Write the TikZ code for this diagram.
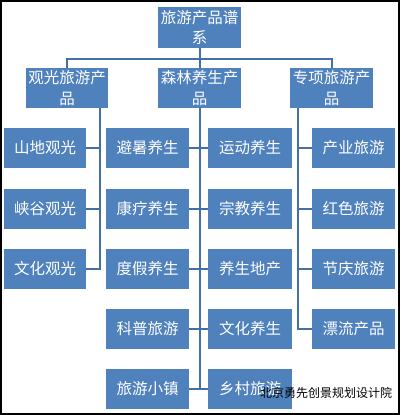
\documentclass[tikz,border=0pt]{standalone}
\usepackage{fontspec}
\setmainfont{Noto Sans CJK SC}
\begin{document}
\begin{tikzpicture}[x=1pt,y=-1pt,
  box/.style={rectangle,fill=boxblue,text=white,inner sep=0pt,
    minimum width=83pt,minimum height=40pt,align=center,
    font=\fontsize{15.5pt}{20.5pt}\selectfont},
  conn/.style={draw=lineblue,line width=2pt}]
\definecolor{boxblue}{HTML}{4F81BD}
\definecolor{lineblue}{HTML}{4371A6}
\useasboundingbox (0,0) rectangle (400,415);
\draw[black,line width=2pt] (1,1) rectangle (399,414);
% root
\node[box,minimum height=41pt] (root) at (199.5,27.5) {旅游产品谱\\系};
% level 2
\node[box,minimum width=82pt] (la) at (67,88) {观光旅游产\\品};
\node[box] (lb) at (199.5,88) {森林养生产\\品};
\node[box] (lc) at (331.5,88) {专项旅游产\\品};
% leaves column a
\node[box,minimum width=82pt] (a1) at (45,148) {山地观光};
\node[box,minimum width=82pt] (a2) at (45,208.5) {峡谷观光};
\node[box,minimum width=82pt] (a3) at (45,268.5) {文化观光};
% column b
\node[box] (b1) at (147.5,148) {避暑养生};
\node[box] (b2) at (147.5,208.5) {康疗养生};
\node[box] (b3) at (147.5,268.5) {度假养生};
\node[box] (b4) at (147.5,329) {科普旅游};
\node[box] (b5) at (147.5,389) {旅游小镇};
% column c
\node[box,minimum width=84pt] (c1) at (250,148) {运动养生};
\node[box,minimum width=84pt] (c2) at (250,208.5) {宗教养生};
\node[box,minimum width=84pt] (c3) at (250,268.5) {养生地产};
\node[box,minimum width=84pt] (c4) at (250,329) {文化养生};
\node[box,minimum width=84pt] (c5) at (250,389) {乡村旅游};
% column d
\node[box] (d1) at (353.5,148) {产业旅游};
\node[box] (d2) at (353.5,208.5) {红色旅游};
\node[box] (d3) at (353.5,268.5) {节庆旅游};
\node[box] (d4) at (353.5,329) {漂流产品};
% connectors
\coordinate (bus) at (0,59);
\coordinate (va) at (100,108);
\coordinate (vc) at (298,108);
\draw[conn] (root.south) -- (lb.north);
\draw[conn] (la.north) -- (la.north |- bus) -- (lc.north |- bus) -- (lc.north);
\draw[conn] (va) |- (a3.east);
\draw[conn] (a1.east) -- (a1.east -| va);
\draw[conn] (a2.east) -- (a2.east -| va);
\draw[conn] (lb.south) -- (lb.south |- b5.east);
\foreach \i in {1,...,5} {\draw[conn] (b\i.east) -- (c\i.west);}
\draw[conn] (vc) |- (d4.west);
\draw[conn] (d1.west) -- (d1.west -| vc);
\draw[conn] (d2.west) -- (d2.west -| vc);
\draw[conn] (d3.west) -- (d3.west -| vc);
% watermark
\node[text=black,inner sep=0pt,font=\fontsize{12pt}{12pt}\selectfont] (wm) at (326,393) {北京勇先创景规划设计院};
\end{tikzpicture}
\end{document}
